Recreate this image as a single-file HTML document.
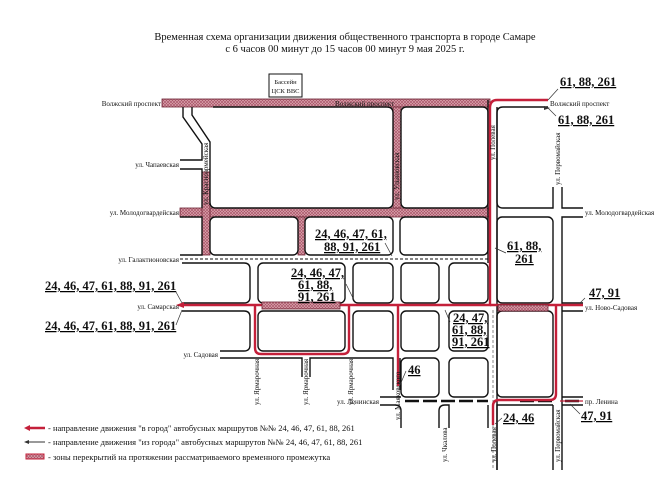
<!DOCTYPE html>
<html><head><meta charset="utf-8"><style>
html,body{margin:0;padding:0;background:#fff;}
svg{display:block;}
text{font-family:"Liberation Serif",serif;fill:#111;}
.b{font-weight:bold;font-size:12.5px;}
.s{font-size:7px;}
</style></head><body>
<svg width="670" height="494" viewBox="0 0 670 494" xmlns="http://www.w3.org/2000/svg">
<defs>
<pattern id="h" width="3" height="3" patternUnits="userSpaceOnUse">
<rect width="3" height="3" fill="#deaab2"/>
<path d="M0,0L3,3M3,0L0,3" stroke="#a85468" stroke-width="0.7"/>
</pattern>
</defs>
<text x="345" y="40" font-size="10.5" text-anchor="middle">Временная схема организации движения общественного транспорта в городе Самаре</text>
<text x="345" y="52" font-size="10.5" text-anchor="middle">с 6 часов 00 минут до 15 часов 00 минут 9 мая 2025 г.</text>
<rect x="269" y="74" width="33" height="23" fill="#fff" stroke="#111" stroke-width="1"/>
<text x="285.5" y="84" font-size="6.5" text-anchor="middle">Бассейн</text>
<text x="285.5" y="93" font-size="6.5" text-anchor="middle">ЦСК ВВС</text>

<g fill="url(#h)" stroke="#6a2030" stroke-width="0.8">
<rect x="162" y="99" width="328" height="8"/>
<rect x="180" y="208" width="310" height="9"/>
<rect x="202" y="172" width="8" height="83"/>
<rect x="298" y="217" width="7" height="38"/>
<rect x="393" y="107" width="8" height="101"/>
</g>

<g fill="none" stroke="#111" stroke-width="1.4">
<path d="M192,107 L192,115 L210,142 L210,202 Q210,208 216,208 M183,107 L183,117 L202,144 L202,160 L180,160 M180,169 L202,169 L202,208"/>
<path d="M213,107 L387,107 Q393,107 393,113 L393,202 Q393,208 387,208 L216,208"/>
<rect x="401" y="107" width="87" height="101" rx="5"/>
<path d="M548,107 L503,107 Q497,107 497,113 L497,202 Q497,208 503,208 L553,208 L553,187 M562,187 L562,208 L583,208 M583,217 L562,217 L562,470 M553,470 L553,405"/>
<path d="M180,217 L202,217 L202,255 L180,255"/>
<rect x="210" y="217" width="88" height="38" rx="5"/>
<rect x="305" y="217" width="88" height="38" rx="5"/>
<rect x="400" y="217" width="88" height="38" rx="5"/>
<rect x="497" y="217" width="56" height="86" rx="5"/>
<path d="M562,303 L583,303 M583,311 L562,311 M562,397 L583,397 M583,405 L562,405"/>
<path d="M182,263 L244,263 Q250,263 250,269 L250,297 Q250,303 244,303 L182,303"/>
<rect x="258" y="263" width="87" height="40" rx="5"/>
<rect x="353" y="263" width="40" height="40" rx="5"/>
<rect x="401" y="263" width="38" height="40" rx="5"/>
<rect x="449" y="263" width="39" height="40" rx="5"/>
<path d="M182,311 L244,311 Q250,311 250,317 L250,345 Q250,351 244,351 L220,351"/>
<rect x="258" y="311" width="87" height="40" rx="5"/>
<rect x="353" y="311" width="40" height="40" rx="5"/>
<rect x="401" y="311" width="38" height="40" rx="5"/>
<rect x="449" y="311" width="39" height="40" rx="5"/>
<rect x="497" y="311" width="56" height="86" rx="5"/>
<path d="M220,358 L302,358 L302,377 M310,377 L310,358 L393,358 L393,390 M400,390 L400,358"/>
<rect x="401" y="358" width="38" height="39" rx="5"/>
<rect x="449" y="358" width="39" height="39" rx="5"/>
<path d="M380,397 L401,397 M380,405 L395,405 Q401,405 401,411 L401,428 M439,428 L439,411 Q439,405 445,405 L449,405 Q449,405 449,411 L449,428 M488,428 L488,405 M497,470 L497,405 L553,405"/>
<path d="M488,255 L488,263 M497,107 L497,470 M488,100 L488,255"/>
</g>
<path d="M180,259 L490,259" stroke="#111" stroke-width="1" stroke-dasharray="3,2"/>
<path d="M493,310 L493,470" stroke="#888" stroke-width="1" stroke-dasharray="3,2"/>
<path d="M405,401 L488,401 M520,401 L553,401 M565,401 L583,401" stroke="#111" stroke-width="2.5" stroke-dasharray="14,4"/>

<g fill="none" stroke="#c4203a" stroke-width="2.4">
<path d="M548,100 L497,100 Q490,100 490,108 L490,305 L340,305 M262,305 L180,305"/>
<path d="M490,305 L583,305"/>
<path d="M255,305 L255,348 Q255,354 261,354 L343,354 Q349,354 349,348 L349,305"/>
<path d="M398,305 L398,386"/>
<path d="M556,305 L556,394 Q556,400 550,400 L499,400 Q493,400 493,406 L493,425"/>
<path d="M560,401 L583,401" stroke-width="1.2"/>
</g>
<g fill="url(#h)" stroke="#6a2030" stroke-width="0.8">
<rect x="262" y="302" width="78" height="7"/>
<rect x="498" y="305" width="50" height="6"/>
</g>
<path d="M176,305 L184,302 L184,308Z" fill="#c4203a"/>
<path d="M550,108 L544,106 L544,110Z" fill="#333"/>

<g class="s">
<text x="161" y="106" text-anchor="end" font-size="7">Волжский проспект</text>
<text x="335" y="106" font-size="7" fill="#6a2030">Волжский проспект</text>
<text x="550" y="106" font-size="7">Волжский проспект</text>
<text x="179" y="167" text-anchor="end" font-size="7">ул. Чапаевская</text>
<text x="179" y="215" text-anchor="end" font-size="7">ул. Молодогвардейская</text>
<text x="585" y="215" font-size="7">ул. Молодогвардейская</text>
<text x="179" y="262" text-anchor="end" font-size="7">ул. Галактионовская</text>
<text x="179" y="309" text-anchor="end" font-size="7">ул. Самарская</text>
<text x="585" y="310" font-size="7">ул. Ново-Садовая</text>
<text x="218" y="357" text-anchor="end" font-size="7">ул. Садовая</text>
<text x="379" y="404" text-anchor="end" font-size="7">ул. Ленинская</text>
<text x="585" y="404" font-size="7">пр. Ленина</text>
<text transform="translate(208,205) rotate(-90)" font-size="7">ул. Красноармейская</text>
<text transform="translate(399,200) rotate(-90)" font-size="7">ул. Ульяновская</text>
<text transform="translate(495,160) rotate(-90)" font-size="7">ул. Полевая</text>
<text transform="translate(560,185) rotate(-90)" font-size="7">ул. Первомайская</text>
<text transform="translate(259,405) rotate(-90)" font-size="7">ул. Ярмарочная</text>
<text transform="translate(308,405) rotate(-90)" font-size="7">ул. Ярмарочная</text>
<text transform="translate(353,405) rotate(-90)" font-size="7">ул. Ярмарочная</text>
<text transform="translate(400,420) rotate(-90)" font-size="7">ул. Маяковского</text>
<text transform="translate(447,462) rotate(-90)" font-size="7">ул. Чкалова</text>
<text transform="translate(496,462) rotate(-90)" font-size="7">ул. Полевая</text>
<text transform="translate(560,462) rotate(-90)" font-size="7">ул. Первомайская</text>
</g>

<g class="b" text-decoration="underline">
<text x="560" y="86">61, 88, 261</text>
<text x="558" y="124">61, 88, 261</text>
<text x="315" y="238">24, 46, 47, 61,</text>
<text x="324" y="251">88, 91, 261</text>
<text x="507" y="250">61, 88,</text>
<text x="515" y="263">261</text>
<text x="45" y="290">24, 46, 47, 61, 88, 91, 261</text>
<text x="45" y="330">24, 46, 47, 61, 88, 91, 261</text>
<text x="291" y="277">24, 46, 47,</text>
<text x="298" y="289">61, 88,</text>
<text x="298" y="301">91, 261</text>
<text x="589" y="297">47, 91</text>
<text x="453" y="322">24, 47,</text>
<text x="452" y="334">61, 88,</text>
<text x="452" y="346">91, 261</text>
<text x="408" y="374">46</text>
<text x="503" y="422">24, 46</text>
<text x="581" y="420">47, 91</text>
</g>
<g stroke="#333" stroke-width="0.7" fill="none">
<path d="M558,89 L548,100 M556,116 L548,108 M385,243 L392,256 M176,292 L182,303 M176,325 L182,310 M346,284 L354,300 M506,253 L495,248 M450,322 L445,310 M406,371 L400,385 M502,418 L495,424 M580,414 L570,404 M585,298 L580,303"/>
</g>

<path d="M27,428 L45,428" stroke="#c4203a" stroke-width="2.4"/><path d="M24,428 L30,425 L30,431Z" fill="#c4203a"/>
<text x="48" y="431" font-size="8.5">- направление движения "в город" автобусных маршрутов №№ 24, 46, 47, 61, 88, 261</text>
<path d="M27,442 L45,442" stroke="#333" stroke-width="1"/><path d="M24,442 L29,440 L29,444Z" fill="#333"/>
<text x="48" y="445" font-size="8.5">- направление движения "из города" автобусных маршрутов №№ 24, 46, 47, 61, 88, 261</text>
<rect x="26" y="454" width="18" height="5" fill="url(#h)" stroke="#c4203a" stroke-width="1"/>
<text x="48" y="460" font-size="8.5">- зоны перекрытий на протяжении рассматриваемого временного промежутка</text>
</svg>
</body></html>
